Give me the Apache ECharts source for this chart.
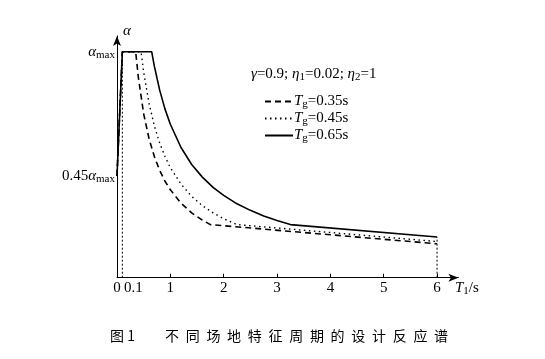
<!DOCTYPE html>
<html><head><meta charset="utf-8">
<script src="https://cdn.jsdelivr.net/npm/echarts@6/dist/echarts.min.js"></script>
<style>html,body{margin:0;padding:0;background:#fff}#c{width:545px;height:359px}</style>
</head><body><div id="c"></div>
<script>
// ---- data ----
const seriesNames = ['Tg=0.35s', 'Tg=0.45s', 'Tg=0.65s'];
const legendTexts = ['0.35s', '0.45s', '0.65s'];
const curveTg035 = [[0,0.45],[0.1,1],[0.35,1],[0.4,0.887],[0.5,0.725],[0.6,0.616],[0.7,0.536],[0.8,0.475],[0.9,0.427],[1.0,0.389],[1.2,0.330],[1.4,0.287],[1.6,0.255],[1.75,0.235],[6,0.150]];
const curveTg045 = [[0,0.45],[0.1,1],[0.45,1],[0.5,0.910],[0.6,0.772],[0.7,0.672],[0.8,0.596],[0.9,0.536],[1.0,0.487],[1.2,0.414],[1.4,0.360],[1.6,0.319],[1.8,0.287],[2.0,0.261],[2.25,0.235],[6,0.160]];
const curveTg065 = [[0,0.45],[0.1,1],[0.65,1],[0.7,0.936],[0.8,0.830],[0.9,0.746],[1.0,0.679],[1.2,0.576],[1.4,0.501],[1.6,0.445],[1.8,0.400],[2.0,0.364],[2.25,0.327],[2.5,0.298],[2.75,0.273],[3.0,0.253],[3.25,0.235],[6,0.180]];
const guideT01 = [[0.1,0],[0.1,1]];
const guideT6 = [[6,0],[6,0.180]];
const xLabelValues = [0, 0.1, 1, 2, 3, 4, 5, 6];
const xTickValues = [1, 2, 3, 4, 5, 6];
const yLabelValues = [0.45, 1];
const captionHead = '图 1';
const captionBody = '不同场地特征周期的设计反应谱';

const serif = '"Liberation Serif", "DejaVu Serif", serif';
const cjk = '"Noto Sans CJK SC", sans-serif';
const black = '#000';

const chart = echarts.init(document.getElementById('c'), null, {renderer: 'canvas'});
const richCommon = {
  i: {fontFamily: serif, fontStyle: 'italic', fontWeight: 'normal', fontSize: 15, color: black},
  n: {fontFamily: serif, fontWeight: 'normal', fontSize: 15, color: black},
  s: {fontFamily: serif, fontWeight: 'normal', fontSize: 11, color: black, padding: [6, 0, 0, 0]}
};

const styles = [
  {type: [6, 4], width: 1.6},
  {type: [1.5, 3.5], width: 1.4},
  {type: 'solid', width: 1.6}
];
const curves = [curveTg035, curveTg045, curveTg065];

const series = curves.map((d, k) => ({
  name: seriesNames[k], type: 'line', data: d, symbol: 'none', showSymbol: false,
  lineStyle: {color: black, width: styles[k].width, type: styles[k].type},
  itemStyle: {color: black}, z: 3 + k, animation: false
}));
[guideT01, guideT6].forEach(g => series.push({
  type: 'line', data: g, symbol: 'none', silent: true, animation: false,
  lineStyle: {color: black, width: 1, type: [2, 2]}, z: 2
}));

chart.setOption({
  animation: false,
  backgroundColor: '#fff',
  grid: {left: 117, right: 86.6, top: 35.9, bottom: 81.3, containLabel: false},
  xAxis: {
    type: 'value', min: 0, max: 6.4,
    axisLine: {show: true, lineStyle: {color: black, width: 1}, symbol: ['none', 'arrow'], symbolSize: [6, 10]},
    axisTick: {show: true, inside: true, length: 4, lineStyle: {color: black}, customValues: xTickValues},
    axisLabel: {
      show: true, margin: 3, fontFamily: serif, fontSize: 15, color: black,
      customValues: xLabelValues,
      formatter: v => (Math.abs(v - 0.1) < 1e-6 ? '{p|0.1}' : String(Math.round(v))),
      rich: {p: {fontFamily: serif, fontSize: 15, color: black, padding: [0, 0, 0, 22]}}
    },
    splitLine: {show: false}
  },
  yAxis: {
    type: 'value', min: 0, max: 1.07,
    axisLine: {show: true, lineStyle: {color: black, width: 1}, symbol: ['none', 'arrow'], symbolSize: [6, 10]},
    axisTick: {show: false},
    axisLabel: {
      show: true, margin: 2, customValues: yLabelValues,
      formatter: v => (Math.abs(v - 1) < 1e-6 ? '{i|α}{s|max}' : '{n|0.45}{i|α}{s|max}'),
      rich: richCommon
    },
    splitLine: {show: false}
  },
  legend: {
    show: true, orient: 'vertical', left: 259, top: 89,
    itemWidth: 28, itemHeight: 12, itemGap: 1,
    data: seriesNames,
    itemStyle: {opacity: 0},
    formatter: name => '{i|T}{s|g}{n|=' + legendTexts[seriesNames.indexOf(name)] + '}',
    textStyle: {rich: richCommon, padding: [0, 0, 0, -4]}
  },
  title: {
    show: true, left: 246, top: 61,
    text: '{i|γ}{n|=0.9; }{i|η}{s|1}{n|=0.02; }{i|η}{s|2}{n|=1}',
    textStyle: {fontWeight: 'normal', rich: richCommon}
  },
  graphic: [
    {type: 'text', left: 123, top: 24, style: {text: 'α', font: 'italic 15px ' + serif, fill: black}},
    {type: 'text', left: 455, top: 281, style: {text: '{i|T}{s|1}{n|/s}', rich: richCommon}},
    {type: 'text', left: 110, top: 329, style: {text: captionHead, font: '14px ' + cjk, fill: black}},
    {type: 'text', left: 165, top: 329, style: {
      text: captionBody.split('').map(c => '{c|' + c + '}').join(''),
      rich: {c: {fontFamily: cjk, fontSize: 14, color: black, width: 20.7, align: 'left'}}
    }}
  ],
  series: series
});
</script>
</body></html>
